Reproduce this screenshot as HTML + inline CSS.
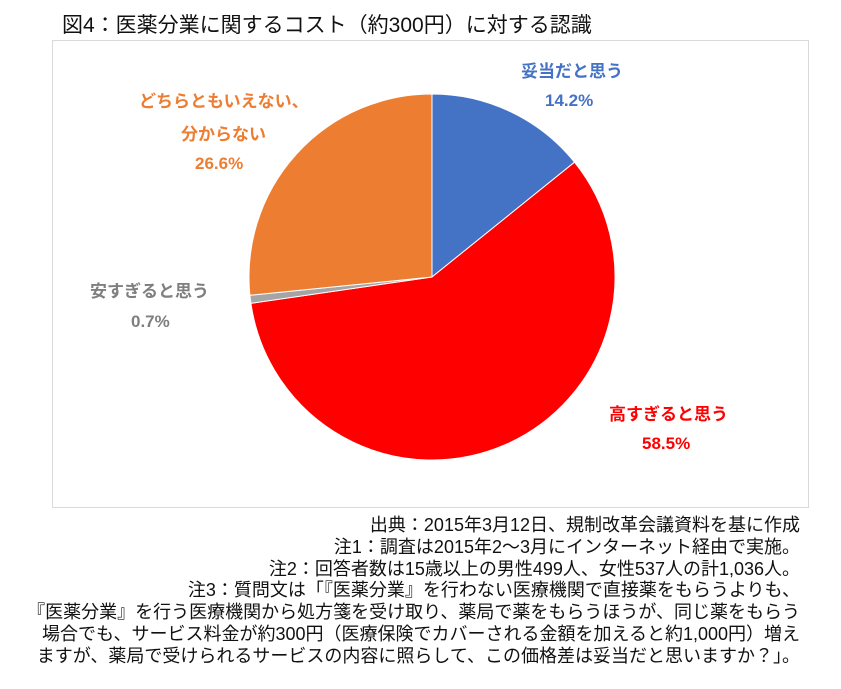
<!DOCTYPE html><html><head><meta charset="utf-8"><style>
body{margin:0;width:841px;height:689px;background:#fff;position:relative;overflow:hidden;font-family:"Liberation Sans","Noto Sans CJK JP",sans-serif}
.t{position:absolute;white-space:nowrap}
.n{position:absolute;right:41px;font-size:18px;color:#111;white-space:nowrap;text-align:right;line-height:22px}
.l{font-weight:bold;font-size:17px;position:absolute;white-space:nowrap}
</style></head><body>
<div class="t" style="left:62px;top:9px;font-size:21px;color:#111">図4：医薬分業に関するコスト（約300円）に対する認識</div>
<div style="position:absolute;left:52px;top:40px;width:755px;height:466px;border:1px solid #d9d9d9"></div>
<svg style="position:absolute;left:0;top:0" width="841" height="689">
<g transform="translate(432,277)">
<path d="M0,0 L0,-183 A183,183 0 0 1 142.5,-114.8 Z" fill="#4472c4" stroke="#fff" stroke-width="1"/>
<path d="M0,0 L142.5,-114.8 A183,183 0 1 1 -181.1,26.3 Z" fill="#ff0000" stroke="#fff" stroke-width="1"/>
<path d="M0,0 L-181.1,26.3 A183,183 0 0 1 -182.1,18.3 Z" fill="#a5a5a5" stroke="#fff" stroke-width="1"/>
<path d="M0,0 L-182.1,18.3 A183,183 0 0 1 0,-183 Z" fill="#ed7d31" stroke="#fff" stroke-width="1"/>
</g></svg>
<div class="l" style="left:521px;top:57px;color:#4472c4">妥当だと思う</div>
<div class="l" style="left:545px;top:91px;color:#4472c4">14.2%</div>
<div class="l" style="left:139px;top:87px;color:#ed7d31">どちらともいえない、</div>
<div class="l" style="left:181px;top:120px;color:#ed7d31">分からない</div>
<div class="l" style="left:195px;top:154px;color:#ed7d31">26.6%</div>
<div class="l" style="left:90px;top:277px;color:#7f7f7f">安すぎると思う</div>
<div class="l" style="left:131px;top:312px;color:#7f7f7f">0.7%</div>
<div class="l" style="left:609px;top:400px;color:#ff0000">高すぎると思う</div>
<div class="l" style="left:642px;top:434px;color:#ff0000">58.5%</div>
<div class="n" style="top:514px">出典：2015年3月12日、規制改革会議資料を基に作成</div>
<div class="n" style="top:536px">注1：調査は2015年2～3月にインターネット経由で実施。</div>
<div class="n" style="top:558px">注2：回答者数は15歳以上の男性499人、女性537人の計1,036人。</div>
<div class="n" style="top:579px">注3：質問文は「『医薬分業』を行わない医療機関で直接薬をもらうよりも、</div>
<div class="n" style="top:601px">『医薬分業』を行う医療機関から処方箋を受け取り、薬局で薬をもらうほうが、同じ薬をもらう</div>
<div class="n" style="top:623px">場合でも、サービス料金が約300円（医療保険でカバーされる金額を加えると約1,000円）増え</div>
<div class="n" style="top:645px">ますが、薬局で受けられるサービスの内容に照らして、この価格差は妥当だと思いますか？」。</div>
</body></html>
